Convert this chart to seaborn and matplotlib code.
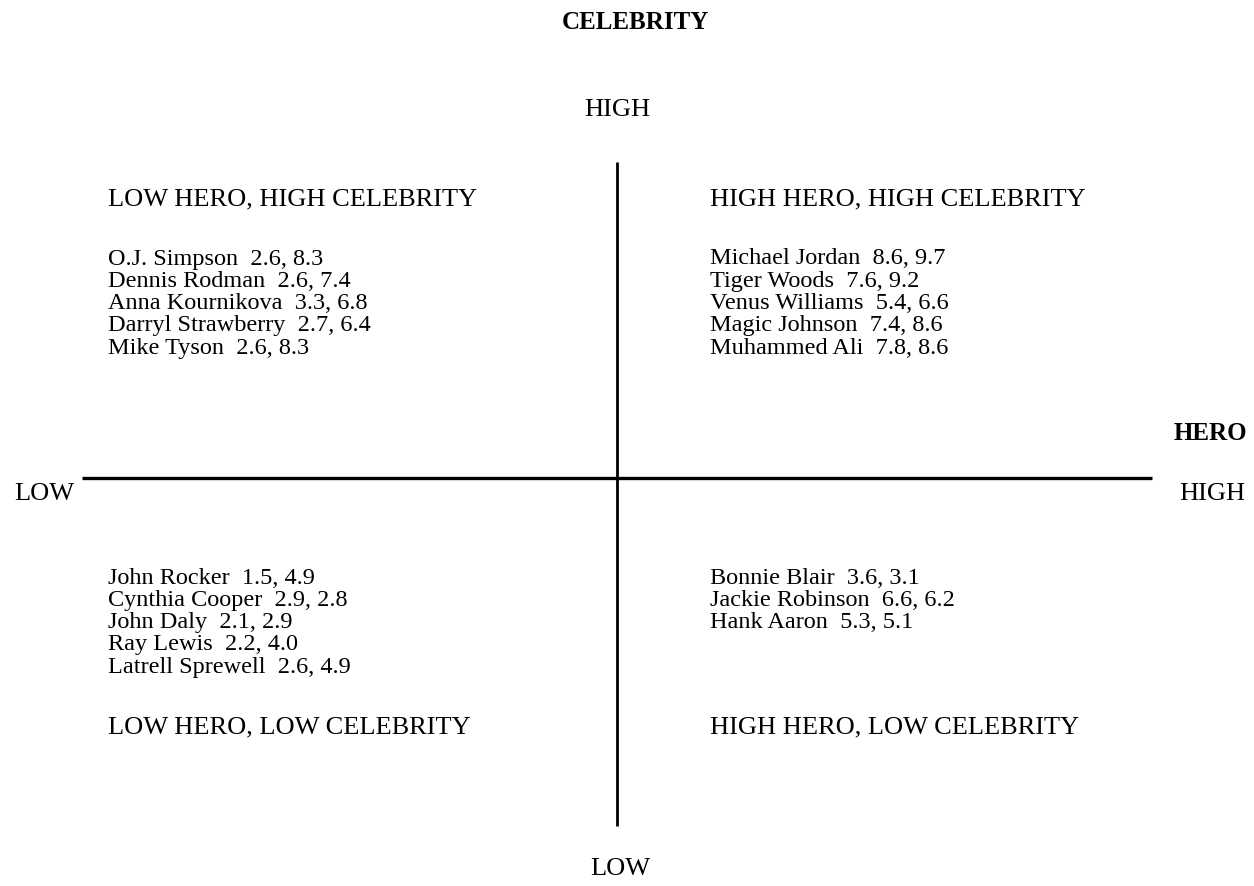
import matplotlib
matplotlib.use("Agg")
import matplotlib.pyplot as plt
import seaborn as sns

# 数据：各象限人物及其（英雄，名人）得分
names_hh = ["Michael Jordan", "Tiger Woods", "Venus Williams", "Magic Johnson", "Muhammed Ali"]
hero_hh = [8.6, 7.6, 5.4, 7.4, 7.8]
celeb_hh = [9.7, 9.2, 6.6, 8.6, 8.6]

names_lh = ["O.J. Simpson", "Dennis Rodman", "Anna Kournikova", "Darryl Strawberry", "Mike Tyson"]
hero_lh = [2.6, 2.6, 3.3, 2.7, 2.6]
celeb_lh = [8.3, 7.4, 6.8, 6.4, 8.3]

names_ll = ["John Rocker", "Cynthia Cooper", "John Daly", "Ray Lewis", "Latrell Sprewell"]
hero_ll = [1.5, 2.9, 2.1, 2.2, 2.6]
celeb_ll = [4.9, 2.8, 2.9, 4.0, 4.9]

names_hl = ["Bonnie Blair", "Jackie Robinson", "Hank Aaron"]
hero_hl = [3.6, 6.6, 5.3]
celeb_hl = [3.1, 6.2, 5.1]

quadrant_titles = ["LOW HERO, HIGH CELEBRITY", "HIGH HERO, HIGH CELEBRITY",
                   "LOW HERO, LOW CELEBRITY", "HIGH HERO, LOW CELEBRITY"]

sns.set_theme(style="white")
plt.rcParams['font.family'] = ['Liberation Serif', 'DejaVu Serif']
plt.rcParams['text.color'] = 'black'

W, H = 1254, 886
fig = plt.figure(figsize=(W / 100, H / 100), dpi=100)
ax = fig.add_axes([0, 0, 1, 1])
ax.set_xlim(0, W)
ax.set_ylim(H, 0)
ax.axis("off")

fs = 19      # 标题与轴标签
fs_list = 17.5  # 名单
# 坐标轴十字
ax.plot([82, 1152], [478, 478], color="black", lw=2.4, solid_capstyle="butt")
ax.plot([617, 617], [162, 826], color="black", lw=2.0, solid_capstyle="butt")

ax.text(635, 22, "CELEBRITY", ha="center", va="center", fontsize=fs - 1, fontweight="bold")
ax.text(617, 110, "HIGH", ha="center", va="center", fontsize=fs)
ax.text(620, 869, "LOW", ha="center", va="center", fontsize=fs)
ax.text(14, 494, "LOW", ha="left", va="center", fontsize=fs)
ax.text(1245, 494, "HIGH", ha="right", va="center", fontsize=fs)
ax.text(1247, 433, "HERO", ha="right", va="center", fontsize=fs - 1, fontweight="bold")


def draw_list(x, y0, names, hero, celeb, step=22.3):
    for i, (n, h, c) in enumerate(zip(names, hero, celeb)):
        ax.text(x, y0 + i * step, f"{n}  {h:.1f}, {c:.1f}",
                ha="left", va="center", fontsize=fs_list)


lx, rx = 108, 710
ax.text(lx, 199, quadrant_titles[0], ha="left", va="center", fontsize=fs)
ax.text(rx, 199, quadrant_titles[1], ha="left", va="center", fontsize=fs)
ax.text(lx, 727, quadrant_titles[2], ha="left", va="center", fontsize=fs)
ax.text(rx, 727, quadrant_titles[3], ha="left", va="center", fontsize=fs)

draw_list(lx, 259, names_lh, hero_lh, celeb_lh)
draw_list(rx, 259, names_hh, hero_hh, celeb_hh)
draw_list(lx, 578, names_ll, hero_ll, celeb_ll)
draw_list(rx, 578, names_hl, hero_hl, celeb_hl)

fig.savefig("out.png", dpi=100, facecolor="white")
